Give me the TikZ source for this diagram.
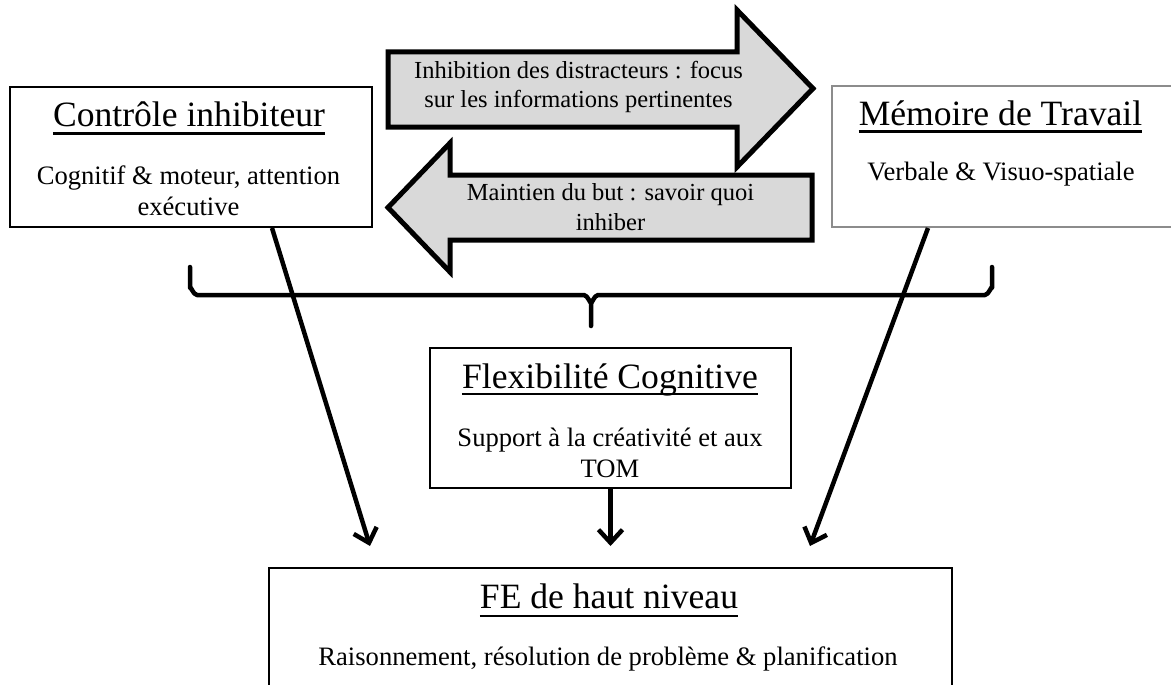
\documentclass[tikz,border=0pt]{standalone}
\usepackage{fontspec}
\setmainfont{Liberation Serif}
\usetikzlibrary{arrows.meta}
\definecolor{arrowgray}{HTML}{D9D9D9}
\definecolor{boxgray}{HTML}{8C8C8C}
\tikzset{
  box/.style={draw=black, line width=2pt, inner sep=0pt, rectangle},
  ttl/.style={inner sep=0pt, anchor=base, font=\fontsize{35.6}{40}\selectfont},
  body/.style={inner sep=0pt, anchor=base, font=\fontsize{26.6}{31}\selectfont},
  atext/.style={inner sep=0pt, anchor=base, font=\fontsize{24.5}{29}\selectfont},
  uline/.style={line width=2.4pt},
  blockarrow/.style={draw=black, fill=arrowgray, line width=5pt, line join=miter, miter limit=10},
  conn/.style={line width=4.5pt, -{Straight Barb[length=13pt,width=24pt]}},
  bracestyle/.style={line width=4.5pt, line cap=round, line join=round},
}
\begin{document}
\begin{tikzpicture}[x=1pt,y=-1pt]
\useasboundingbox (0,0) rectangle (1171,685);
\clip (0,0) rectangle (1171,685);

% boxes
\node[box, minimum width=362pt, minimum height=140pt] (cib) at (191,157) {};
\node[box, draw=boxgray, minimum width=340pt, minimum height=141pt] (mdt) at (1002,156.5) {};
\node[box, minimum width=361pt, minimum height=140pt] (flx) at (610.5,418) {};
\node[box, minimum width=683pt, minimum height=140pt] (fe) at (610.5,638) {};

% texts
\node[ttl] (cibT) at (189,127) {Contrôle inhibiteur};
\draw[uline] ([yshift=-6.5pt]cibT.base west) -- ([yshift=-6.5pt]cibT.base east);
\node[body] (cib1) at (188.5,184) {Cognitif \& moteur, attention};
\node[body] (cib2) at (188.5,215) {exécutive};

\node[ttl] (mdtT) at (1000.5,125) {Mémoire de Travail};
\draw[uline] ([yshift=-6.5pt]mdtT.base west) -- ([yshift=-6.5pt]mdtT.base east);
\node[body] (mdt1) at (1001,180) {Verbale \& Visuo-spatiale};

\node[ttl] (flxT) at (610,388) {Flexibilité Cognitive};
\draw[uline] ([yshift=-6pt]flxT.base west) -- ([yshift=-6pt]flxT.base east);
\node[body] (flx1) at (610,446) {Support à la créativité et aux};
\node[body] (flx2) at (610,477) {TOM};

\node[ttl] (feT) at (609,608) {FE de haut niveau};
\draw[uline] ([yshift=-8pt]feT.base west) -- ([yshift=-8pt]feT.base east);
\node[body] (fe1) at (608,665) {Raisonnement, résolution de problème \& planification};

% block arrows
\draw[blockarrow] (388,52) -- (737,52) -- (737,10) -- (813,88.5) -- (737,167) -- (737,127) -- (388,127) -- cycle;
\node[atext] (a1l1) at (578.5,78) {Inhibition des distracteurs : focus};
\node[atext] (a1l2) at (578.5,107) {sur les informations pertinentes};

\draw[blockarrow] (812,175) -- (450,175) -- (450,143) -- (388,207.5) -- (450,272) -- (450,240) -- (812,240) -- cycle;
\node[atext] (a2l1) at (610.5,200) {Maintien du but : savoir quoi};
\node[atext] (a2l2) at (610.5,230) {inhiber};

% brace
\draw[bracestyle] (190,267) -- (190,288) to[out=90,in=180] (197,295) -- (584,295)
  to[out=0,in=-90] (591,302) -- (591,326);
\draw[bracestyle] (591,302) to[out=-90,in=180] (598,295) -- (985,295)
  to[out=0,in=90] (992,288) -- (992,267);

% connectors
\coordinate (feL) at (370,546);
\coordinate (feR) at (810,546);
\coordinate (feM) at (610.5,546);
\draw[conn] ([xshift=81pt]cib.south) -- (feL);
\draw[conn] ([xshift=-74pt]mdt.south) -- (feR);
\draw[conn] (flx.south) -- (feM);
\end{tikzpicture}
\end{document}
